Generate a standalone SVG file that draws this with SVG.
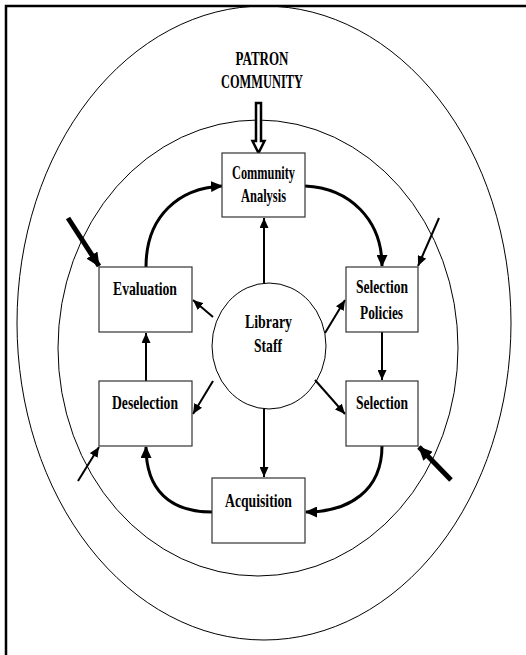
<svg xmlns="http://www.w3.org/2000/svg" width="526" height="655" viewBox="0 0 526 655">
<style>
  .ring { fill: none; stroke: #000; stroke-width: 1; }
  .box { fill: #fff; stroke: #333; stroke-width: 1.2; }
  .lbl { font-family: "Liberation Serif", "Times New Roman", serif; font-weight: bold; font-size: 19px; fill: #000; text-anchor: middle; }
  .thin { fill: none; stroke: #000; stroke-width: 2; }
  .curve { fill: none; stroke: #000; stroke-width: 3; }
  .thick { fill: none; stroke: #000; stroke-width: 5; }
</style>
<defs>
  <marker id="ah" markerUnits="userSpaceOnUse" markerWidth="10" markerHeight="9" refX="10" refY="4.5" orient="auto">
    <path d="M0,0 L10,4.5 L0,9 z" fill="#000"/>
  </marker>
  <marker id="ahc" markerUnits="userSpaceOnUse" markerWidth="12" markerHeight="11" refX="11" refY="5.5" orient="auto">
    <path d="M0,0 L12,5.5 L0,11 z" fill="#000"/>
  </marker>
  <marker id="ahk" markerUnits="userSpaceOnUse" markerWidth="14" markerHeight="13" refX="13" refY="6.5" orient="auto">
    <path d="M0,0 L14,6.5 L0,13 z" fill="#000"/>
  </marker>
</defs>
<rect width="526" height="655" fill="#fff"/>
<g id="frame">
  <path d="M6,655 L6,6 L526,6" fill="none" stroke="#000" stroke-width="2.5"/>
</g>
<g id="rings">
  <ellipse class="ring" cx="264" cy="323" rx="247" ry="317"/>
  <ellipse class="ring" cx="258" cy="348" rx="200" ry="228"/>
</g>
<g id="patron">
  <text class="lbl" x="262" y="65" textLength="53" lengthAdjust="spacingAndGlyphs">PATRON</text>
  <text class="lbl" x="262" y="88" textLength="82" lengthAdjust="spacingAndGlyphs">COMMUNITY</text>
</g>
<g id="connectors">
  <polygon points="256,103 261,103 261,141 264.5,141 258.5,153 252.5,141 256,141" fill="#fff" stroke="#000" stroke-width="2.5" stroke-linejoin="miter"/>
  <line class="thin" x1="264" y1="283" x2="264" y2="218" marker-end="url(#ah)"/>
  <line class="thin" x1="264" y1="409" x2="264" y2="477" marker-end="url(#ah)"/>
  <line class="thin" x1="213" y1="317" x2="193" y2="300" marker-end="url(#ah)"/>
  <line class="thin" x1="325" y1="333" x2="345" y2="300" marker-end="url(#ah)"/>
  <line class="thin" x1="213" y1="381" x2="193" y2="414" marker-end="url(#ah)"/>
  <line class="thin" x1="315" y1="380" x2="345" y2="414" marker-end="url(#ah)"/>
  <line class="thin" x1="382" y1="332" x2="382" y2="380" marker-end="url(#ah)"/>
  <line class="thin" x1="146" y1="381" x2="146" y2="333" marker-end="url(#ah)"/>
  <path class="curve" d="M146,267 C146,215 180,188 222,186" marker-end="url(#ahc)"/>
  <path class="curve" d="M305,186 C350,188 382,220 382,266" marker-end="url(#ahc)"/>
  <path class="curve" d="M382,446 C382,490 350,512 306,512" marker-end="url(#ahc)"/>
  <path class="curve" d="M212,512 C170,512 146,490 146,447" marker-end="url(#ahc)"/>
  <line class="thick" x1="68" y1="218" x2="99" y2="266" marker-end="url(#ahk)"/>
  <line class="thin" stroke-width="2.5" x1="439" y1="218" x2="418" y2="266" marker-end="url(#ah)"/>
  <line class="thin" stroke-width="2.5" x1="78" y1="481" x2="99" y2="447" marker-end="url(#ah)"/>
  <line class="thick" x1="451" y1="480" x2="419" y2="447" marker-end="url(#ahk)"/>
</g>
<g id="library-staff">
  <ellipse cx="269" cy="346" rx="57" ry="63" fill="none" stroke="#000" stroke-width="1"/>
  <text class="lbl" x="268.5" y="328" textLength="47" lengthAdjust="spacingAndGlyphs">Library</text>
  <text class="lbl" x="268" y="352" textLength="28" lengthAdjust="spacingAndGlyphs">Staff</text>
</g>
<g id="community-analysis">
  <rect class="box" x="222" y="153" width="83" height="64"/>
  <text class="lbl" x="263.5" y="179" textLength="63" lengthAdjust="spacingAndGlyphs">Community</text>
  <text class="lbl" x="263.5" y="202" textLength="45" lengthAdjust="spacingAndGlyphs">Analysis</text>
</g>
<g id="evaluation">
  <rect class="box" x="99" y="267" width="93" height="65"/>
  <text class="lbl" x="145" y="295" textLength="64" lengthAdjust="spacingAndGlyphs">Evaluation</text>
</g>
<g id="selection-policies">
  <rect class="box" x="346" y="267" width="72" height="65"/>
  <text class="lbl" x="382" y="293" textLength="52" lengthAdjust="spacingAndGlyphs">Selection</text>
  <text class="lbl" x="381.5" y="319" textLength="43" lengthAdjust="spacingAndGlyphs">Policies</text>
</g>
<g id="deselection">
  <rect class="box" x="99" y="381" width="93" height="65"/>
  <text class="lbl" x="145" y="409" textLength="66" lengthAdjust="spacingAndGlyphs">Deselection</text>
</g>
<g id="selection">
  <rect class="box" x="346" y="381" width="72" height="65"/>
  <text class="lbl" x="382" y="409" textLength="52" lengthAdjust="spacingAndGlyphs">Selection</text>
</g>
<g id="acquisition">
  <rect class="box" x="212" y="478" width="93" height="65"/>
  <text class="lbl" x="258.5" y="507" textLength="67" lengthAdjust="spacingAndGlyphs">Acquisition</text>
</g>
</svg>
